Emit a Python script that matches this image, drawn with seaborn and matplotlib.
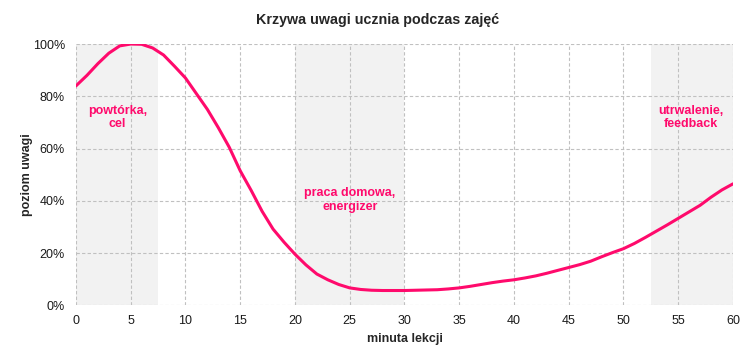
import numpy as np
import pandas as pd
import matplotlib
matplotlib.use("Agg")
import matplotlib.pyplot as plt
import seaborn as sns

# --- Data ---
minutes = list(range(0, 61))
attention = [
    84, 88, 92.5, 96.5, 99.3, 100, 99.9, 98.5, 95.8, 91.5,
    87, 81, 75, 68, 60.5, 51.5, 44, 36, 29.2, 24.2,
    19.6, 15.5, 12, 9.8, 8, 6.7, 6.1, 5.8, 5.7, 5.7,
    5.7, 5.8, 5.9, 6.0, 6.3, 6.7, 7.3, 8.0, 8.7, 9.3,
    9.8, 10.5, 11.3, 12.3, 13.4, 14.5, 15.6, 16.9, 18.6, 20.2,
    21.7, 23.7, 26, 28.4, 30.8, 33.3, 35.8, 38.3, 41.4, 44.2,
    46.5,
]
phase_spans = [(0, 7.5), (20, 30), (52.5, 60)]
phase_labels = ["powtórka,\ncel", "praca domowa,\nenergizer", "utrwalenie,\nfeedback"]
label_pos = [(3.8, 72), (25, 40.3), (56.2, 72)]

df = pd.DataFrame({"minuta": minutes, "uwaga": np.array(attention) / 100})

# --- Style ---
sns.set_style("white")
plt.rcParams["font.family"] = ["Liberation Sans", "DejaVu Sans"]

pink = "#ff0a6c"

fig = plt.figure(figsize=(7.56, 3.61), dpi=100)
ax = fig.add_axes([0.1005, 0.154, 0.869, 0.724])

for start, end in phase_spans:
    ax.axvspan(start, end, color="#f2f2f2", lw=0, zorder=0)

sns.lineplot(data=df, x="minuta", y="uwaga", color=pink, linewidth=2.2, ax=ax, zorder=3)

for text, (xp, yp) in zip(phase_labels, label_pos):
    ax.text(xp, yp / 100, text, color=pink, ha="center", va="center",
            fontsize=9, fontweight="bold", linespacing=1.15, zorder=4)

ax.set_xlim(0, 60)
ax.set_ylim(0, 1)
ax.set_xticks(range(0, 61, 5))
ax.set_yticks(np.arange(0, 1.01, 0.2))
ax.set_yticklabels([f"{int(v)}%" for v in range(0, 101, 20)])
ax.grid(True, color="#c0c0c0", linestyle=(0, (3, 2)), linewidth=0.8)
ax.set_axisbelow(True)
for s in ax.spines.values():
    s.set_visible(False)
ax.tick_params(axis="both", labelsize=9, length=0, colors="#1a1a1a")
ax.tick_params(axis="y", pad=8)
ax.tick_params(axis="x", pad=7)

ax.set_xlabel("minuta lekcji", fontsize=9, fontweight="bold", labelpad=4)
ax.set_ylabel("poziom uwagi", fontsize=9, fontweight="bold", labelpad=0)
fig.suptitle("Krzywa uwagi ucznia podczas zajęć", fontsize=10.3, fontweight="bold",
             x=0.5, y=0.965, va="top")

fig.savefig("out.png", dpi=100)
